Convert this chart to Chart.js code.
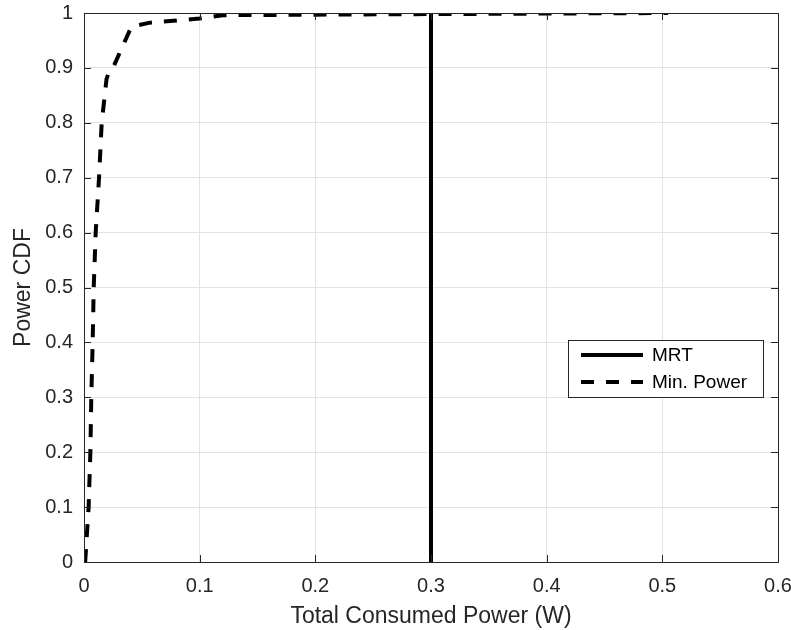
<!DOCTYPE html>
<html>
<head>
<meta charset="utf-8">
<script src="https://cdn.jsdelivr.net/npm/chart.js@4"></script>
<style>
  html, body { margin: 0; padding: 0; background: #fff; }
  #wrap { width: 791px; height: 630px; }
</style>
</head>
<body>
<div id="wrap"><canvas id="cdfChart" width="791" height="630"></canvas></div>
<script>
// data
const mrtX = [0.3, 0.3];
const mrtY = [0, 1];

const minPowerX = [0.001, 0.004, 0.0055, 0.0063, 0.0075, 0.0084, 0.0101, 0.013, 0.0153, 0.0195, 0.022, 0.025, 0.041, 0.056, 0.1, 0.12, 0.2, 0.3, 0.4, 0.505];
const minPowerY = [0, 0.1, 0.2, 0.3, 0.4, 0.5, 0.6, 0.7, 0.8, 0.88, 0.895, 0.9, 0.975, 0.982, 0.99, 0.996, 0.997, 0.998, 0.999, 1.0];

const xTicks = [0, 0.1, 0.2, 0.3, 0.4, 0.5, 0.6];
const yTicks = [0, 0.1, 0.2, 0.3, 0.4, 0.5, 0.6, 0.7, 0.8, 0.9, 1];

const FONT = "'Liberation Sans', Arial, Helvetica, sans-serif";
const AXIS_COLOR = "#262626";

function toPoints(xs, ys) {
  return xs.map((x, i) => ({ x: x, y: ys[i] }));
}

// box, inward ticks (MATLAB style) and the legend inside the axes
const matlabAxes = {
  id: "matlabAxes",
  afterDraw(chart) {
    const ctx = chart.ctx;
    const area = chart.chartArea;
    const xs = chart.scales.x;
    const ys = chart.scales.y;
    const tl = 7;

    ctx.save();
    ctx.strokeStyle = AXIS_COLOR;
    ctx.lineWidth = 1;
    ctx.beginPath();
    xTicks.forEach((v) => {
      const px = Math.round(xs.getPixelForValue(v)) + 0.5;
      ctx.moveTo(px, area.bottom);
      ctx.lineTo(px, area.bottom - tl);
      ctx.moveTo(px, area.top);
      ctx.lineTo(px, area.top + tl);
    });
    yTicks.forEach((v) => {
      const py = Math.round(ys.getPixelForValue(v)) + 0.5;
      ctx.moveTo(area.left, py);
      ctx.lineTo(area.left + tl, py);
      ctx.moveTo(area.right, py);
      ctx.lineTo(area.right - tl, py);
    });
    ctx.stroke();
    ctx.strokeRect(Math.round(area.left) + 0.5, Math.round(area.top) + 0.5,
      Math.round(area.right - area.left), Math.round(area.bottom - area.top));

    // legend
    const bx = 568, by = 340, bw = 195, bh = 57;
    ctx.fillStyle = "#fff";
    ctx.fillRect(bx, by, bw, bh);
    ctx.strokeRect(bx + 0.5, by + 0.5, bw, bh);
    const rows = [by + 15, by + 42];
    chart.data.datasets.forEach((ds, i) => {
      const y = rows[i];
      ctx.beginPath();
      ctx.strokeStyle = ds.borderColor;
      ctx.lineWidth = ds.borderWidth;
      ctx.setLineDash(ds.borderDash || []);
      ctx.moveTo(bx + 13, y);
      ctx.lineTo(bx + 75, y);
      ctx.stroke();
      ctx.setLineDash([]);
      ctx.fillStyle = "#000";
      ctx.font = "19px " + FONT;
      ctx.textBaseline = "middle";
      ctx.textAlign = "left";
      ctx.fillText(ds.label, bx + 84, y + 1);
    });
    ctx.restore();
  },
};

const ctx = document.getElementById("cdfChart").getContext("2d");
const cdfChart = new Chart(ctx, {
  type: "scatter",
  data: {
    datasets: [
      {
        label: "MRT",
        data: toPoints(mrtX, mrtY),
        showLine: true,
        borderColor: "#000",
        borderWidth: 4,
        pointRadius: 0,
        tension: 0,
      },
      {
        label: "Min. Power",
        data: toPoints(minPowerX, minPowerY),
        showLine: true,
        borderColor: "#000",
        borderWidth: 4,
        borderDash: [13, 12],
        pointRadius: 0,
        tension: 0,
      },
    ],
  },
  options: {
    responsive: false,
    animation: false,
    layout: { padding: { left: 0, top: 13, right: 13, bottom: 0 } },
    plugins: {
      legend: { display: false },
      tooltip: { enabled: false },
    },
    scales: {
      x: {
        type: "linear",
        min: 0,
        max: 0.6,
        afterFit(scale) {
          scale.height = 68;
          scale.paddingLeft = 0;
          scale.paddingRight = 0;
        },
        afterBuildTicks(scale) { scale.ticks = xTicks.map((v) => ({ value: v })); },
        ticks: {
          color: AXIS_COLOR,
          font: { family: FONT, size: 20 },
          padding: 12,
          maxRotation: 0,
          callback: (v) => String(v),
        },
        grid: { color: "#e3e3e3", drawTicks: false },
        border: { display: false },
        title: {
          display: true,
          text: "Total Consumed Power (W)",
          color: AXIS_COLOR,
          font: { family: FONT, size: 23 },
          padding: { top: 1, bottom: 0 },
        },
      },
      y: {
        type: "linear",
        min: 0,
        max: 1,
        afterFit(scale) {
          scale.width = 84;
          scale.paddingTop = 0;
          scale.paddingBottom = 0;
        },
        afterBuildTicks(scale) { scale.ticks = yTicks.map((v) => ({ value: v })); },
        ticks: {
          color: AXIS_COLOR,
          font: { family: FONT, size: 20 },
          padding: 11,
          callback: (v) => String(v),
        },
        grid: { color: "#e3e3e3", drawTicks: false },
        border: { display: false },
        title: {
          display: true,
          text: "Power CDF",
          color: AXIS_COLOR,
          font: { family: FONT, size: 23 },
          padding: { top: 10, bottom: 0 },
        },
      },
    },
  },
  plugins: [matlabAxes],
});
</script>
</body>
</html>
